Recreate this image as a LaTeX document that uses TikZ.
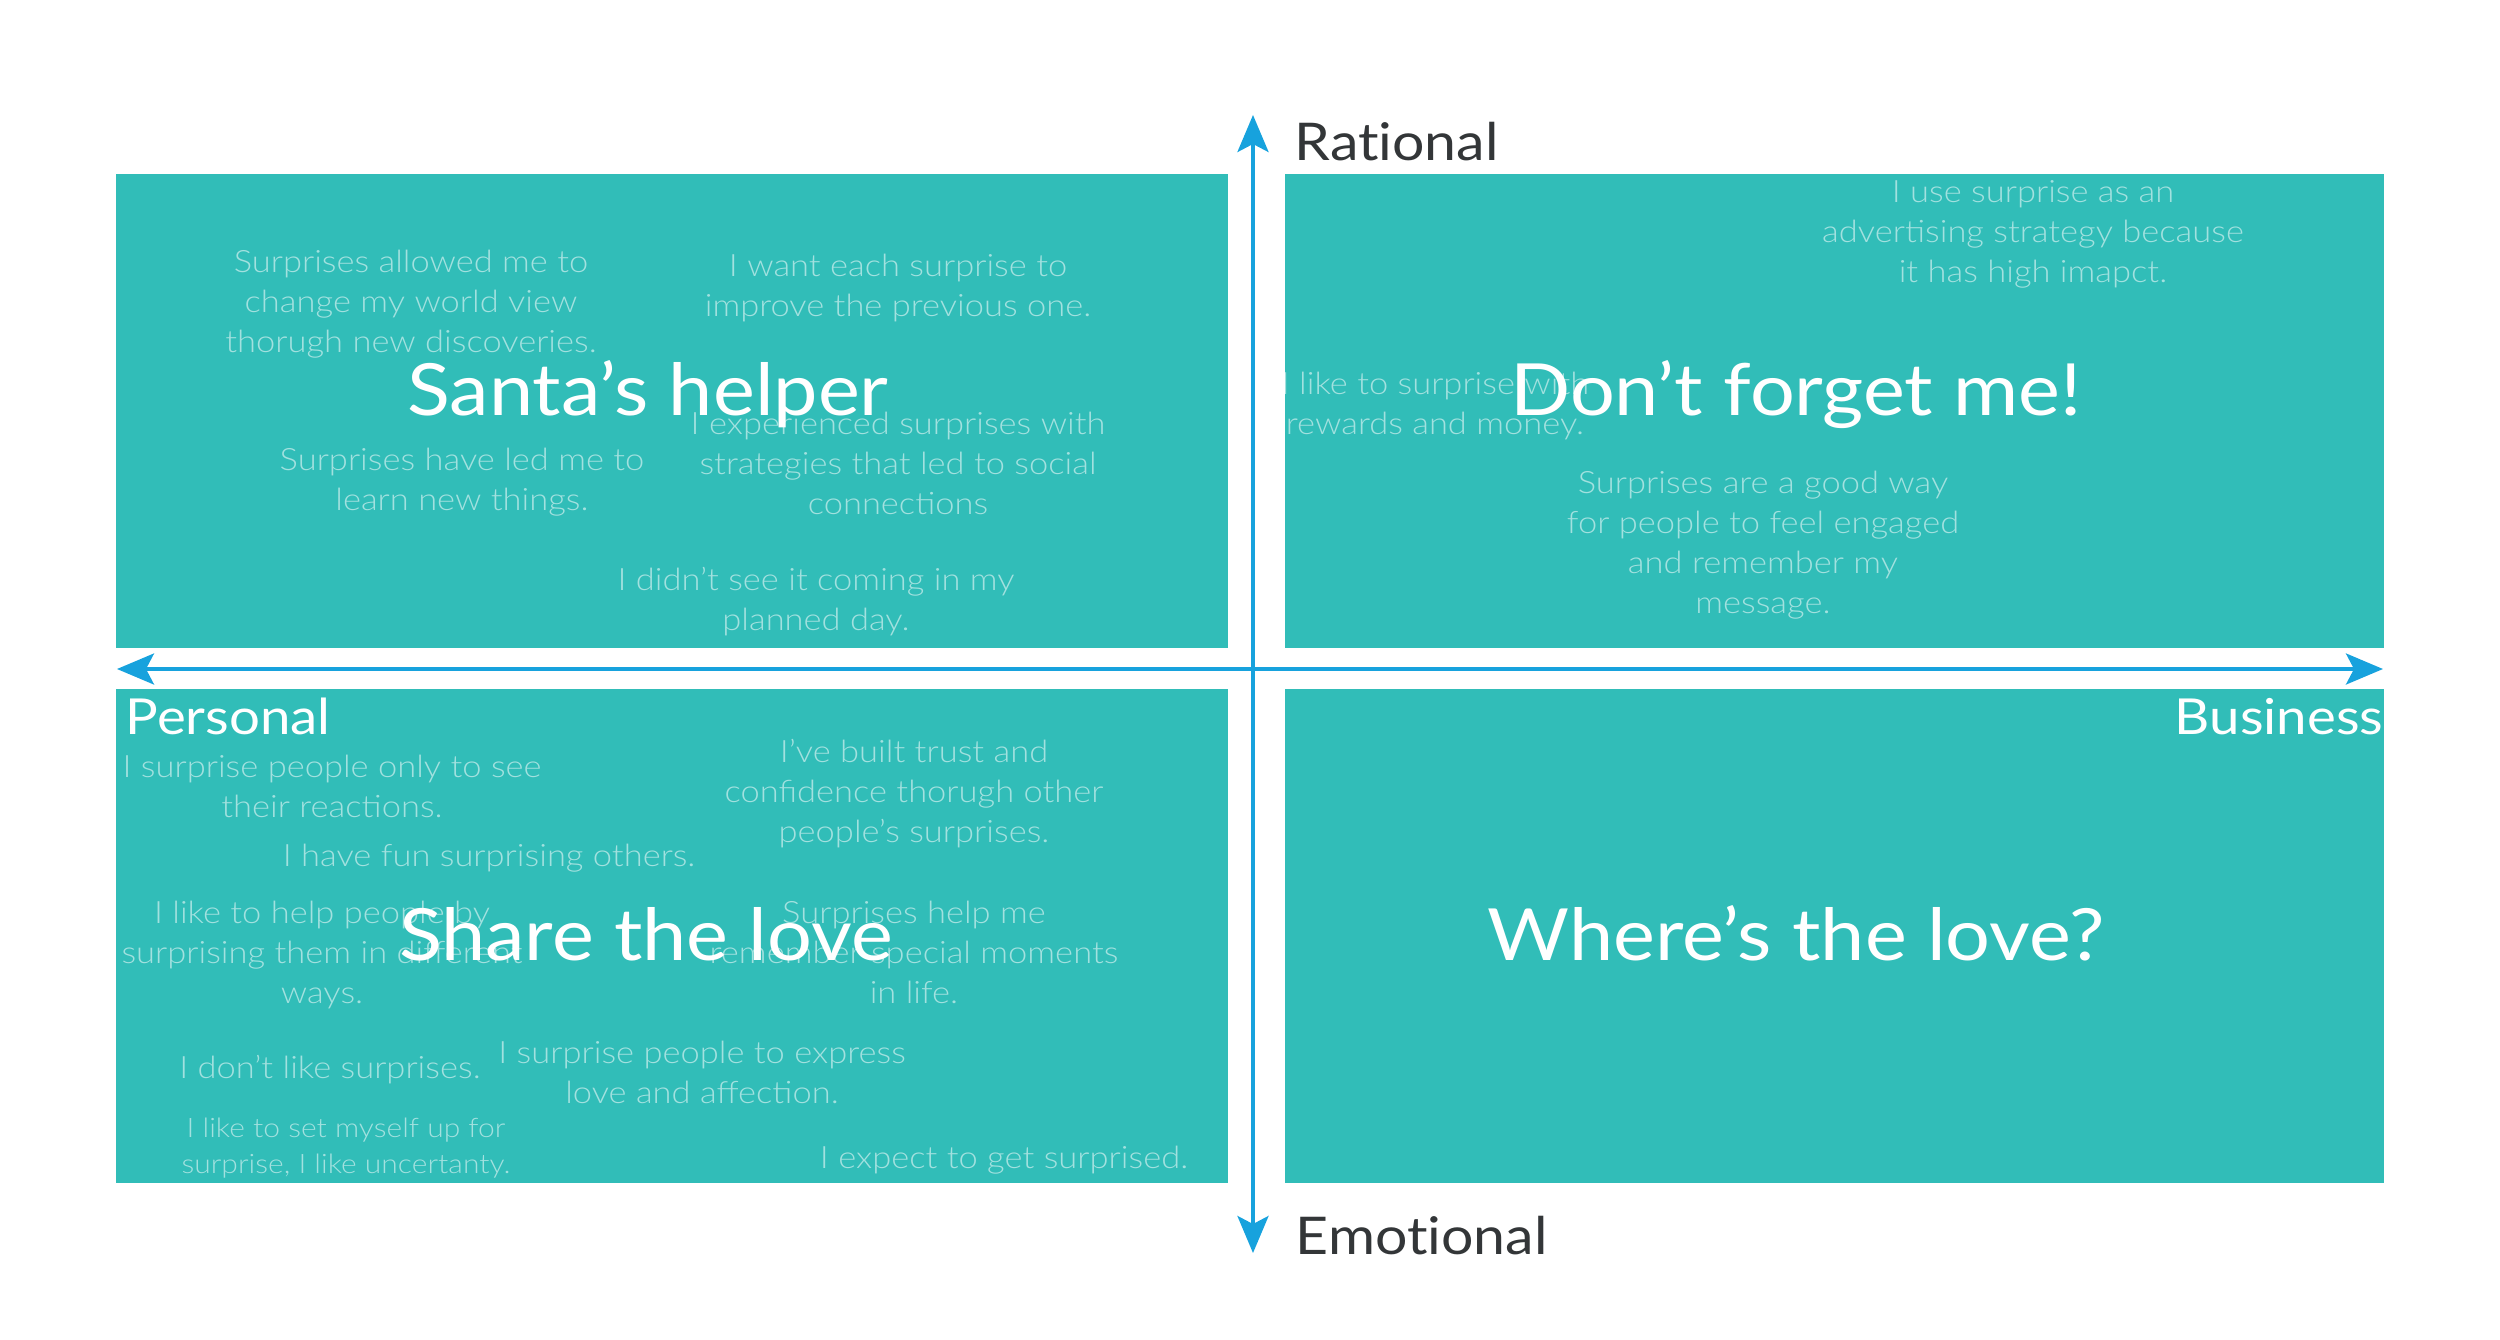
\documentclass[tikz,border=0pt]{standalone}
\usepackage{fontspec}
\setmainfont{Lato}[FakeStretch=1.1, Ligatures={NoCommon, NoRare, NoDiscretionary}]
\newfontfamily\lightfont{Lato Light}[FakeStretch=1.12, Ligatures={NoRare, NoDiscretionary}]
\usetikzlibrary{arrows.meta}
\definecolor{teal1}{HTML}{31BDB8}
\definecolor{axisblue}{HTML}{17A2DD}
\definecolor{darktext}{HTML}{333638}
\definecolor{softtext}{HTML}{A2E1DF}
\tikzset{
  quad/.style={fill=teal1, draw=none, inner sep=0pt, outer sep=0pt, anchor=north west},
  axisline/.style={draw=axisblue, line width=0.9pt, {Stealth[length=9.25pt,width=7.75pt,inset=2pt]}-{Stealth[length=9.25pt,width=7.75pt,inset=2pt]}},
  quote/.style={text=softtext, align=center, inner sep=0pt, font=\lightfont\fontsize{7.7}{10}\selectfont},
  smallquote/.style={quote, font=\lightfont\fontsize{6.7}{8.8}\selectfont},
  qtitle/.style={text=white, inner sep=0pt, anchor=base, font=\fontsize{18}{20}\selectfont},
  axislabel/.style={text=darktext, inner sep=0pt, anchor=base west, font=\fontsize{13}{15}\selectfont},
  sidelabel/.style={text=white, inner sep=0pt, font=\fontsize{12.4}{14}\selectfont}
}
\begin{document}
\begin{tikzpicture}[x=0.25pt, y=-0.25pt]
\useasboundingbox (0,0) rectangle (2500,1340);
% quadrants
\node[quad, minimum width=278pt, minimum height=118.5pt] (tl) at (116,174) {};
\node[quad, minimum width=274.75pt, minimum height=118.5pt] (tr) at (1285,174) {};
\node[quad, minimum width=278pt, minimum height=123.5pt] (bl) at (116,689) {};
\node[quad, minimum width=274.75pt, minimum height=123.5pt] (br) at (1285,689) {};
% axes
\coordinate (xl) at (117,669);
\coordinate (xr) at (2383,669);
\coordinate (yt) at (1253,115);
\coordinate (yb) at (1253,1253);
\draw[axisline] (xl) -- (xr);
\draw[axisline] (yb) -- (yt);
% axis labels
\node[axislabel] (rat) at (1294,160) {Rational};
\node[axislabel] (emo) at (1295,1254) {Emotional};
\node[sidelabel, anchor=base west] (pers) at (125,734) {Personal};
\node[sidelabel, anchor=base east] (bus) at (2384,734) {Business};
% top-left quotes
\node[quote] (q1) at (411,304) {Surprises allowed me to\\change my world view\\thorugh new discoveries.};
\node[quote] (q2) at (898,288) {I want each surprise to\\improve the previous one.};
\node[quote] (q3) at (898,463) {I experienced surprises with\\strategies that led to social\\connections};
\node[quote] (q4) at (462,482) {Surprises have led me to\\learn new things.};
\node[quote] (q5) at (816,602) {I didn’t see it coming in my\\planned day.};
% top-right quotes
\node[quote] (q6) at (2033,234) {I use surprise as an\\advertising strategy because\\it has high imapct.};
\begin{scope}
\clip (tr.south west) rectangle (tr.north east);
\node[quote] (q7) at (1435,406) {I like to surprise with\\rewards and money.};
\end{scope}
\node[quote] (q8) at (1763,545) {Surprises are a good way\\for people to feel engaged\\and remember my\\message.};
% bottom-left quotes
\node[quote] (q9) at (332,786) {I surprise people only to see\\their reactions.};
\node[quote] (q10) at (489,858) {I have fun surprising others.};
\node[quote] (q11) at (914,794) {I’ve built trust and\\confidence thorugh other\\people’s surprises.};
\node[quote] (q12) at (322,955) {I like to help people by\\surprising them in different\\ways.};
\node[quote] (q13) at (914,952) {Surprises help me\\remember special moments\\in life.};
\node[quote] (q14) at (330,1070) {I don’t like surprises.};
\node[quote] (q15) at (702,1072) {I surprise people to express\\love and affection.};
\node[smallquote] (q16) at (346,1148) {I like to set myself up for\\surprise, I like uncertanty.};
\node[quote] (q17) at (1004,1160) {I expect to get surprised.};
% titles
\node[qtitle] (t1) at (648,415) {Santa’s helper};
\node[qtitle] (t2) at (1796,415) {Don’t forget me!};
\node[qtitle] (t3) at (646,960) {Share the love};
\node[qtitle] (t4) at (1796,960) {Where’s the love?};
\end{tikzpicture}
\end{document}
